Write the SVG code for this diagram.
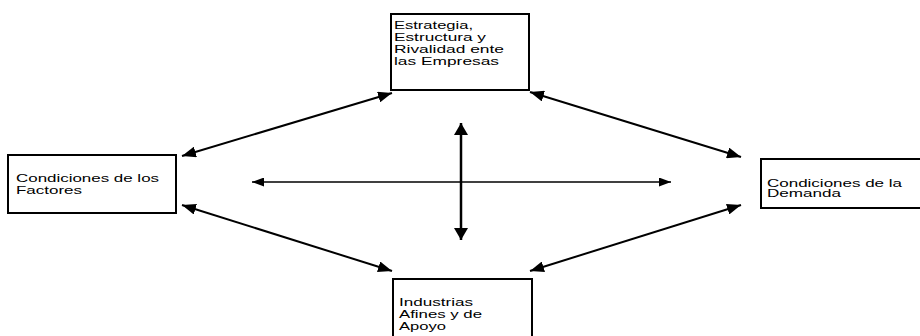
<svg xmlns="http://www.w3.org/2000/svg" width="920" height="336" viewBox="0 0 920 336">
<style>
.box{fill:#fff;stroke:#000;stroke-width:2}
.t{font-family:"Liberation Sans",Arial,sans-serif;font-size:11.5px;fill:#000}
.s{font-size:10.5px}
.c{stroke:#000;fill:none}
</style>
<defs>
<marker id="ad" markerUnits="userSpaceOnUse" markerWidth="15" markerHeight="11" refX="14" refY="5.5" orient="auto-start-reverse"><path d="M0,0 L14,5.5 L0,11 z" fill="#000"/></marker>
<marker id="ah" markerUnits="userSpaceOnUse" markerWidth="13" markerHeight="9" refX="12" refY="4.5" orient="auto-start-reverse"><path d="M0,0 L12,4.5 L0,9 z" fill="#000"/></marker>
<marker id="av" markerUnits="userSpaceOnUse" markerWidth="13" markerHeight="14" refX="12" refY="7" orient="auto-start-reverse"><path d="M0,0 L12,7 L0,14 z" fill="#000"/></marker>
</defs>
<rect width="920" height="336" fill="#fff"/>
<g id="connectors">
<line class="c" stroke-width="2" x1="182" y1="156" x2="392" y2="93" marker-start="url(#ad)" marker-end="url(#ad)"/>
<line class="c" stroke-width="2" x1="530" y1="92" x2="741" y2="157" marker-start="url(#ad)" marker-end="url(#ad)"/>
<line class="c" stroke-width="2" x1="182" y1="205" x2="392" y2="271" marker-start="url(#ad)" marker-end="url(#ad)"/>
<line class="c" stroke-width="2" x1="530" y1="271" x2="741" y2="205" marker-start="url(#ad)" marker-end="url(#ad)"/>
<line class="c" stroke-width="1.6" x1="252" y1="182" x2="671" y2="182" marker-start="url(#ah)" marker-end="url(#ah)"/>
<line class="c" stroke-width="2.5" x1="461" y1="123" x2="461" y2="240" marker-start="url(#av)" marker-end="url(#av)"/>
</g>
<g id="estrategia">
<rect class="box" x="391" y="14" width="138" height="76"/>
<text class="t"><tspan x="394" y="28.5" textLength="79" lengthAdjust="spacingAndGlyphs">Estrategia,</tspan><tspan x="394" y="40.5" textLength="92" lengthAdjust="spacingAndGlyphs">Estructura y</tspan><tspan x="394" y="52.5" textLength="110" lengthAdjust="spacingAndGlyphs">Rivalidad ente</tspan><tspan x="394" y="64.5" textLength="105" lengthAdjust="spacingAndGlyphs">las Empresas</tspan></text>
</g>
<g id="factores">
<rect class="box" x="8" y="155" width="168" height="58"/>
<text class="t"><tspan x="16" y="182" textLength="143" lengthAdjust="spacingAndGlyphs">Condiciones de los</tspan><tspan x="16" y="193.5" textLength="66" lengthAdjust="spacingAndGlyphs">Factores</tspan></text>
</g>
<g id="demanda">
<rect class="box" x="761" y="159" width="170" height="49" stroke-width="2.5"/>
<text class="t s"><tspan x="767" y="186.5" textLength="135" lengthAdjust="spacingAndGlyphs">Condiciones de la</tspan><tspan x="767" y="197" textLength="74" lengthAdjust="spacingAndGlyphs">Demanda</tspan></text>
</g>
<g id="industrias">
<rect class="box" x="393" y="279" width="139" height="70"/>
<text class="t"><tspan x="399" y="305.5" textLength="74" lengthAdjust="spacingAndGlyphs">Industrias</tspan><tspan x="399" y="317.5" textLength="83" lengthAdjust="spacingAndGlyphs">Afines y de</tspan><tspan x="399" y="329.5" textLength="47" lengthAdjust="spacingAndGlyphs">Apoyo</tspan></text>
</g>
</svg>
